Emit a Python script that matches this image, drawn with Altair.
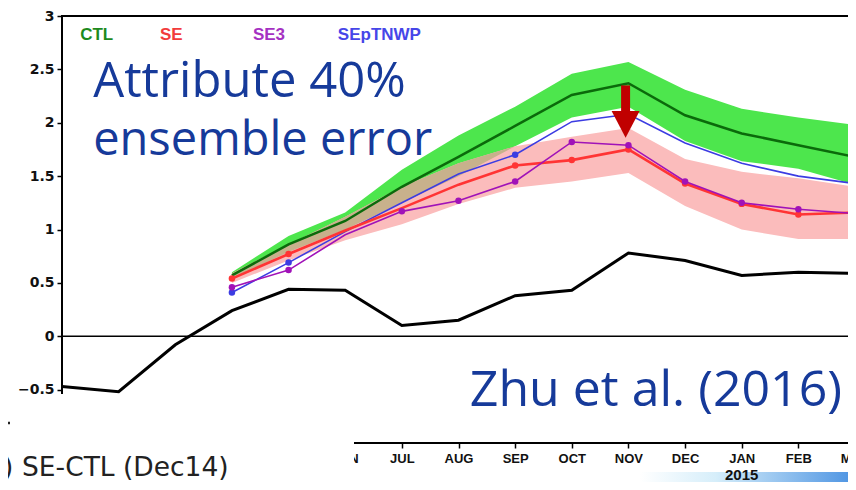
import altair as alt
import pandas as pd

# ---------------- data ----------------
months = ["JAN", "FEB", "MAR", "APR", "MAY", "JUN", "JUL", "AUG",
          "SEP", "OCT", "NOV", "DEC", "JAN", "FEB", "MAR"]
month_idx = list(range(15))
# first months of 2014 are hidden behind the pasted slide element
hidden_labels = [0, 1, 2, 3, 4]

# SE-CTL difference (black line), JAN 2014 .. MAR 2015
diff = [-0.47, -0.52, -0.08, 0.24, 0.44, 0.43, 0.10, 0.15,
        0.38, 0.43, 0.78, 0.71, 0.57, 0.60, 0.59]

# forecast months APR 2014 .. MAR 2015
fc_idx = list(range(3, 15))
ctl = [0.57, 0.86, 1.08, 1.40, 1.68, 1.97, 2.26, 2.37, 2.07, 1.90, 1.79, 1.68]
ctl_lo = [0.54, 0.79, 1.00, 1.25, 1.50, 1.78, 2.05, 2.15, 1.83, 1.64, 1.57, 1.42]
ctl_hi = [0.60, 0.94, 1.16, 1.56, 1.88, 2.15, 2.46, 2.57, 2.31, 2.13, 2.05, 1.98]
se = [0.54, 0.77, 0.99, 1.20, 1.42, 1.60, 1.65, 1.75, 1.43, 1.24, 1.14, 1.16]
se_lo = [0.50, 0.71, 0.90, 1.05, 1.24, 1.39, 1.45, 1.53, 1.22, 1.00, 0.91, 0.91]
se_hi = [0.59, 0.86, 1.12, 1.40, 1.62, 1.78, 1.87, 1.95, 1.66, 1.54, 1.48, 1.40]
se3 = [0.46, 0.62, 0.95, 1.17, 1.27, 1.45, 1.82, 1.79, 1.45, 1.25, 1.19, 1.15]
septnwp = [0.41, 0.69, 0.98, 1.25, 1.52, 1.70, 2.01, 2.08, 1.81, 1.62, 1.50, 1.43]

se_marks = [1, 1, 0, 0, 0, 1, 1, 1, 1, 1, 1, 0]
se3_marks = [1, 1, 0, 1, 1, 1, 1, 1, 1, 1, 1, 1]
sep_marks = [1, 1, 0, 0, 0, 1, 0, 0, 0, 0, 0, 0]

legend_names = ["CTL", "SE", "SE3", "SEpTNWP"]
legend_x = [0.32, 1.73, 3.37, 4.87]
legend_colors = ["#1d8a1d", "#f23b3b", "#a531c2", "#4646e8"]

# ---------------- frames ----------------
X = alt.Scale(domain=[0, 14], nice=False, zero=False)
Y = alt.Scale(domain=[-1, 3], nice=False, zero=False)

band = pd.DataFrame({"m": fc_idx, "glo": ctl_lo, "ghi": ctl_hi,
                     "rlo": se_lo, "rhi": se_hi})
overlap = band[band["rhi"] >= band["glo"]].copy()
overlap["lo"] = overlap[["glo", "rlo"]].max(axis=1)
overlap["hi"] = overlap[["ghi", "rhi"]].min(axis=1)

diff_df = pd.DataFrame({"m": month_idx, "v": diff})


def series(vals):
    return pd.DataFrame({"m": fc_idx, "v": vals})


def marks(vals, flags):
    d = series(vals)
    return d[[bool(f) for f in flags]]


shown = ["" if i in hidden_labels else m for i, m in enumerate(months)]
x_axis = alt.Axis(
    values=month_idx, title=None, grid=False, domain=False,
    labelExpr="[" + ",".join("'%s'" % m for m in shown) + "][datum.value]",
    labelFont="Liberation Sans", labelFontSize=13, labelFontWeight="bold",
    labelColor="#111", tickSize=5, tickWidth=1.5, tickColor="#000",
    labelPadding=4, labelFlush=False, labelOverlap=False)
y_axis = alt.Axis(
    values=[-0.5, 0, 0.5, 1, 1.5, 2, 2.5, 3], format="~g", title=None,
    grid=False, domain=False, labelFont="DejaVu Sans", labelFontSize=14,
    labelFontWeight="bold", labelColor="#111", tickSize=5, tickWidth=1.5,
    tickColor="#000", labelPadding=3, labelFlush=False)

layers = []

# green spread
layers.append(alt.Chart(band).mark_area(color="#4de64d", opacity=1).encode(
    x=alt.X("m:Q", scale=X, axis=x_axis),
    y=alt.Y("glo:Q", scale=Y, axis=y_axis), y2="ghi:Q"))
# pink spread
layers.append(alt.Chart(band).mark_area(color="#fbbcbc", opacity=1).encode(
    x="m:Q", y=alt.Y("rlo:Q", scale=Y), y2="rhi:Q"))
# overlap of the two spreads
layers.append(alt.Chart(overlap).mark_area(color="#c8b18c", opacity=1).encode(
    x="m:Q", y=alt.Y("lo:Q", scale=Y), y2="hi:Q"))

# zero line
layers.append(alt.Chart(pd.DataFrame({"v": [0]})).mark_rule(
    color="#000", strokeWidth=1.3).encode(y=alt.Y("v:Q", scale=Y),
                                           x=alt.value(0), x2=alt.value(793)))

# SE-CTL black line
layers.append(alt.Chart(diff_df).mark_line(color="#000", strokeWidth=3).encode(
    x="m:Q", y=alt.Y("v:Q", scale=Y)))

# CTL
layers.append(alt.Chart(series(ctl)).mark_line(color="#0b6a0b", strokeWidth=2.5).encode(
    x="m:Q", y=alt.Y("v:Q", scale=Y)))
# SEpTNWP
layers.append(alt.Chart(series(septnwp)).mark_line(color="#3c3ce2", strokeWidth=1.6).encode(
    x="m:Q", y=alt.Y("v:Q", scale=Y)))
# SE
layers.append(alt.Chart(series(se)).mark_line(color="#ff3434", strokeWidth=2.6).encode(
    x="m:Q", y=alt.Y("v:Q", scale=Y)))
# SE3
layers.append(alt.Chart(series(se3)).mark_line(color="#a012b8", strokeWidth=1.6).encode(
    x="m:Q", y=alt.Y("v:Q", scale=Y)))

for vals, flags, col in [(septnwp, sep_marks, "#3c3ce2"),
                         (se, se_marks, "#ff3434"),
                         (se3, se3_marks, "#a012b8")]:
    layers.append(alt.Chart(marks(vals, flags)).mark_point(
        filled=True, size=42, color=col, opacity=1).encode(
        x="m:Q", y=alt.Y("v:Q", scale=Y)))

# red arrow
arrow_x = [9.95]
arrow_top = [2.35]
arrow_mid = [2.08]
arrow_head = [1.985]
arr = pd.DataFrame({"m": arrow_x, "t": arrow_top, "b": arrow_mid, "h": arrow_head})
layers.append(alt.Chart(arr).mark_rule(color="#c00000", strokeWidth=9, strokeCap="butt").encode(
    x="m:Q", y=alt.Y("t:Q", scale=Y), y2="b:Q"))
layers.append(alt.Chart(arr).mark_point(
    shape="M-1,-0.96L1,-0.96L0,0.96Z", size=784, filled=True,
    color="#c00000", opacity=1).encode(x="m:Q", y=alt.Y("h:Q", scale=Y)))

# legend labels
leg = pd.DataFrame({"m": legend_x, "v": [2.82] * 4, "t": legend_names,
                    "c": legend_colors})
layers.append(alt.Chart(leg).mark_text(
    align="left", baseline="middle", font="Liberation Sans", fontSize=17,
    fontWeight="bold").encode(
    x="m:Q", y=alt.Y("v:Q", scale=Y), text="t:N",
    color=alt.Color("c:N", scale=None)))

# blue annotations
ann = pd.DataFrame({"m": [0.55, 0.55, 7.20],
                    "v": [2.24, 1.70, -0.65],
                    "s": [49, 47, 50],
                    "t": ["Attribute 40%", "ensemble error", "Zhu et al. (2016)"]})
layers.append(alt.Chart(ann).mark_text(
    align="left", baseline="alphabetic", font="Open Sans",
    color="#163a9a").encode(x="m:Q", y=alt.Y("v:Q", scale=Y), text="t:N",
                            size=alt.Size("s:Q", scale=None)))

# white cover over bottom-left part (pasted slide)
one = pd.DataFrame({"a": [0]})
layers.append(alt.Chart(one).mark_rect(color="white", opacity=1).encode(
    x=alt.value(-62), x2=alt.value(292), y=alt.value(378), y2=alt.value(480)))

# pieces of the lower panel text
layers.append(alt.Chart(one).mark_rule(color="#222", strokeWidth=2.5).encode(
    x=alt.value(-62), x2=alt.value(-52), y=alt.value(407)))
layers.append(alt.Chart(one).mark_text(
    align="left", baseline="alphabetic", font="DejaVu Sans", fontSize=26.5,
    color="#222", text=")").encode(x=alt.value(-59), y=alt.value(460)))
layers.append(alt.Chart(one).mark_text(
    align="left", baseline="alphabetic", font="DejaVu Sans", fontSize=26.5,
    color="#222", text="SE-CTL (Dec14)").encode(x=alt.value(-40), y=alt.value(460)))

# slide background gradient at bottom-right
layers.append(alt.Chart(one).mark_rect(
    color=alt.LinearGradient(
        gradient="linear", x1=0, x2=1, y1=0, y2=0,
        stops=[alt.GradientStop(color="#ffffff", offset=0),
               alt.GradientStop(color="#d6eefa", offset=0.35),
               alt.GradientStop(color="#4a92e2", offset=1)]),
    opacity=1).encode(x=alt.value(578), x2=alt.value(794),
                      y=alt.value(456), y2=alt.value(474)))

# year label under JAN 2015 (drawn above the background strip)
yr = pd.DataFrame({"m": [12], "t": ["2015"]})
layers.append(alt.Chart(yr).mark_text(
    align="center", baseline="middle", font="Liberation Sans", fontSize=15,
    fontWeight="bold", color="#111").encode(x="m:Q", y=alt.value(459), text="t:N"))

chart = alt.layer(*layers).properties(
    width=793, height=427,
    autosize=alt.AutoSizeParams(type="none"),
    padding={"left": 54, "top": 8, "right": -7, "bottom": 39},
    background="white",
).configure_view(stroke="#000", strokeWidth=2)

chart.save("out.html", embed_options={"renderer": "svg", "actions": False})
